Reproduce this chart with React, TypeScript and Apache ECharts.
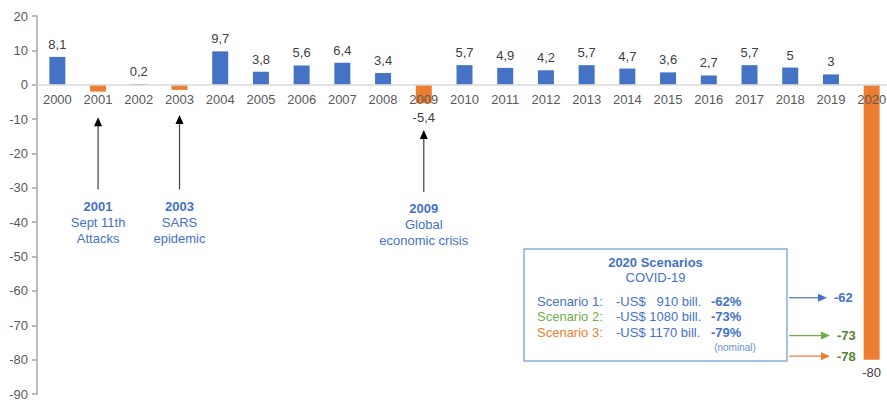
import React, { useEffect, useRef } from "react";
import * as echarts from "echarts";

const years = ["2000","2001","2002","2003","2004","2005","2006","2007","2008","2009","2010","2011","2012","2013","2014","2015","2016","2017","2018","2019","2020"];
const growth = [8.1, -2, 0.2, -1.5, 9.7, 3.8, 5.6, 6.4, 3.4, -5.4, 5.7, 4.9, 4.2, 5.7, 4.7, 3.6, 2.7, 5.7, 5, 3, -80];
const hiddenLabelYears = ["2001", "2003"];
const yTicks = { min: -90, max: 20, interval: 10 };

const events = [
  { year: "2001", title: "2001", lines: ["Sept 11th", "Attacks"], tip: -9.5, base: -30.5 },
  { year: "2003", title: "2003", lines: ["SARS", "epidemic"], tip: -8.8, base: -30.5 },
  { year: "2009", title: "2009", lines: ["Global", "economic crisis"], tip: -13.2, base: -31.2 },
];

const scenarioNames = ["Scenario 1:", "Scenario 2:", "Scenario 3:"];
const scenarioAmounts = ["-US$   910 bill.", "-US$ 1080 bill.", "-US$ 1170 bill."];
const scenarioPct = ["-62%", "-73%", "-79%"];
const scenarioValues = [-62, -73, -78];
const scenarioArrowValues = [-62, -73, -79];

const BLUE = "#4472C4";
const ORANGE = "#ED7D31";
const GREEN = "#70AD47";
const DKGREEN = "#548235";
const TXT = "#595959";
const FONT = "'Liberation Sans', Arial, sans-serif";
const scenarioColors = [BLUE, GREEN, ORANGE];
const scenarioLabelColors = [BLUE, DKGREEN, DKGREEN];

const fmt = (v: number) => String(v).replace(".", ",");

export default function App() {
  const ref = useRef<HTMLDivElement>(null);
  useEffect(() => {
    if (!ref.current) return;
    const chart = echarts.init(ref.current, null, { renderer: "svg" });
    const data = growth.map((v, i) => {
      const hide = hiddenLabelYears.includes(years[i]);
      return {
        value: v,
        itemStyle: { color: v < 0 ? ORANGE : BLUE },
        label: {
          show: !hide,
          position: v < 0 ? "bottom" : "top",
          distance: years[i] === "2009" ? 8 : 6,
        },
      };
    });
    chart.setOption({
      animation: false,
      textStyle: { fontFamily: FONT },
      grid: { left: 37, top: 16, width: 855, bottom: 6, containLabel: false, outerBoundsMode: "none" },
      xAxis: {
        type: "category",
        data: years,
        position: "bottom",
        z: 5,
        axisLine: { onZero: false, lineStyle: { color: "#D9D9D9", width: 1.5 } },
        axisTick: { show: false },
        axisLabel: { color: TXT, fontSize: 13, margin: 8, fontFamily: FONT, interval: 0 },
      },
      yAxis: {
        type: "value",
        min: yTicks.min,
        max: yTicks.max,
        interval: yTicks.interval,
        splitLine: { show: false },
        axisLine: { show: true, lineStyle: { color: "#A6A6A6", width: 1.5 } },
        axisTick: { show: true, length: 5, lineStyle: { color: "#A6A6A6", width: 1.5 } },
        axisLabel: { color: TXT, fontSize: 13, margin: 9, fontFamily: FONT },
      },
      series: [
        {
          type: "bar",
          data,
          barWidth: 16,
          z: 2,
          label: {
            color: "#404040",
            fontSize: 13,
            fontFamily: FONT,
            formatter: (p: any) => fmt(p.value),
          },
        },
      ],
    });

    const px = (year: string, v: number) => chart.convertToPixel({ gridIndex: 0 }, [year, v]) as number[];
    const zeroY = px(years[0], 0)[1];
    const bottomY = px(years[0], yTicks.min)[1];
    chart.setOption({ xAxis: { offset: -(bottomY - zeroY) } });

    const elements: any[] = [];
    events.forEach((e) => {
      const [x, yTip] = px(e.year, e.tip);
      const [, yBase] = px(e.year, e.base);
      elements.push({
        type: "line",
        shape: { x1: x, y1: yBase, x2: x, y2: yTip + 7 },
        style: { stroke: "#404040", lineWidth: 1.2 },
      });
      elements.push({
        type: "polygon",
        shape: { points: [[x, yTip], [x - 4, yTip + 9], [x + 4, yTip + 9]] },
        style: { fill: "#000" },
      });
      elements.push({
        type: "text",
        x,
        y: yBase + 17,
        style: { text: e.title, fill: BLUE, font: `bold 13px ${FONT}`, align: "center", verticalAlign: "middle" },
      });
      e.lines.forEach((t, k) => {
        elements.push({
          type: "text",
          x,
          y: yBase + 33 + k * 15.5,
          style: { text: t, fill: BLUE, font: `13px ${FONT}`, align: "center", verticalAlign: "middle" },
        });
      });
    });

    // Scenario box
    const boxL = 524, boxT = 249, boxR = 787, boxB = 361;
    elements.push({
      type: "rect",
      shape: { x: boxL, y: boxT, width: boxR - boxL, height: boxB - boxT },
      style: { fill: "#fff", stroke: "#8FAADC", lineWidth: 1.5 },
    });
    const cx = (boxL + boxR) / 2;
    elements.push({ type: "text", x: cx, y: 262, style: { text: "2020 Scenarios", fill: BLUE, font: `bold 13px ${FONT}`, align: "center", verticalAlign: "middle" } });
    elements.push({ type: "text", x: cx, y: 277, style: { text: "COVID-19", fill: BLUE, font: `13px ${FONT}`, align: "center", verticalAlign: "middle" } });
    scenarioNames.forEach((n, i) => {
      const y = 301 + i * 15.5;
      elements.push({ type: "text", x: 537, y, style: { text: n, fill: scenarioColors[i], font: `13px ${FONT}`, align: "left", verticalAlign: "middle" } });
      elements.push({ type: "text", x: 616, y, style: { text: scenarioAmounts[i], fill: BLUE, font: `13px ${FONT}`, align: "left", verticalAlign: "middle" } });
      elements.push({ type: "text", x: 711, y, style: { text: scenarioPct[i], fill: BLUE, font: `bold 13px ${FONT}`, align: "left", verticalAlign: "middle" } });
    });
    elements.push({ type: "text", x: 735, y: 347, style: { text: "(nominal)", fill: "#6F8FCF", font: `10px ${FONT}`, align: "center", verticalAlign: "middle" } });

    scenarioValues.forEach((v, i) => {
      const [, y] = px("2020", scenarioArrowValues[i]);
      const x1 = 789;
      const x2 = i === 0 ? 827 : 830;
      elements.push({ type: "line", shape: { x1, y1: y, x2: x2 - 8, y2: y }, style: { stroke: scenarioColors[i], lineWidth: 1.2 } });
      elements.push({ type: "polygon", shape: { points: [[x2, y], [x2 - 9, y - 4], [x2 - 9, y + 4]] }, style: { fill: scenarioColors[i] } });
      elements.push({ type: "text", x: x2 + 7, y, style: { text: String(v), fill: scenarioLabelColors[i], font: `bold 13px ${FONT}`, align: "left", verticalAlign: "middle" } });
    });

    chart.setOption({ graphic: elements });
    return () => chart.dispose();
  }, []);
  return <div ref={ref} style={{ position: "fixed", left: 0, top: 0, width: 887, height: 400, background: "#fff" }} />;
}
